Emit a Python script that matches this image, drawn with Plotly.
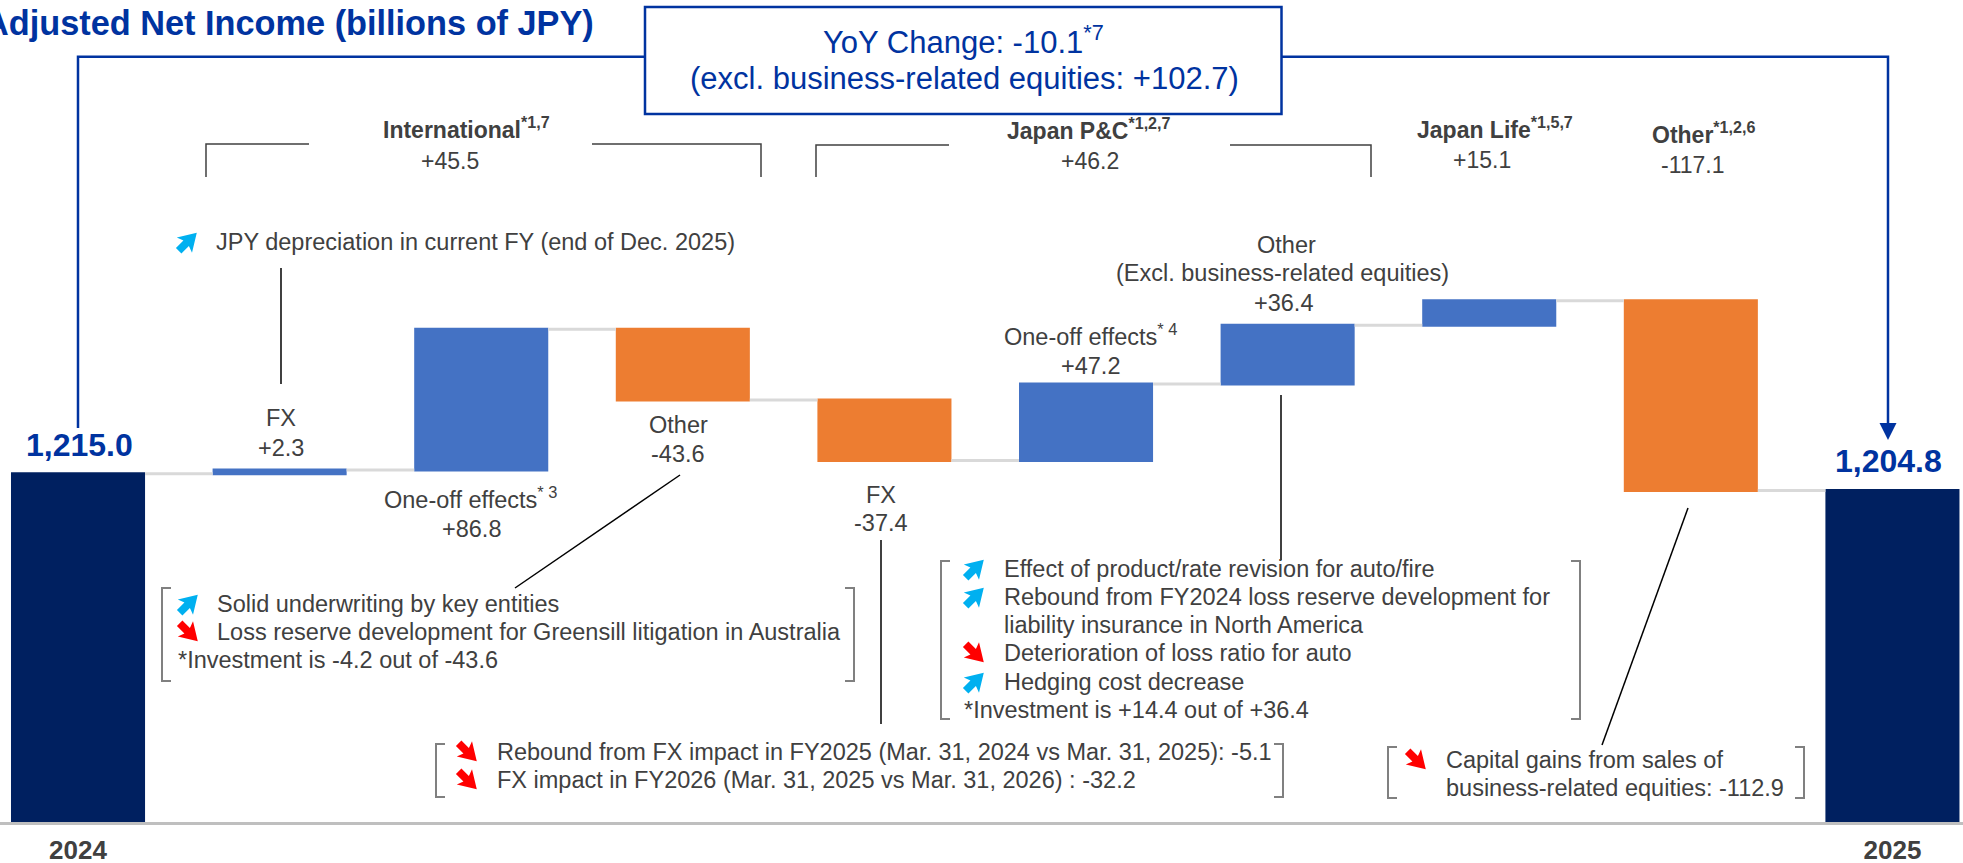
import plotly.graph_objects as go

# ---------------- data ----------------
categories = ["FY2024", "Intl FX", "Intl One-off", "Intl Other", "P&C FX",
              "P&C One-off", "P&C Other", "Japan Life", "Other", "FY2025"]
tick_labels = ["2024", "", "", "", "", "", "", "", "", "2025"]
measures = ["absolute"] + ["relative"] * 8 + ["total"]
values = [1215.0, 2.3, 86.8, -43.6, -37.4, 47.2, 36.4, 15.1, -117.1, None]
start_label = "1,215.0"
end_label = "1,204.8"

title_text = "Adjusted Net Income (billions of JPY)"
yoy_lines = ["YoY Change: -10.1<sup>*7</sup>", "(excl. business-related equities: +102.7)"]

segment_names = ["International<sup>*1,7</sup>", "Japan P&C<sup>*1,2,7</sup>",
                 "Japan Life<sup>*1,5,7</sup>", "Other<sup>*1,2,6</sup>"]
segment_values = ["+45.5", "+46.2", "+15.1", "-117.1"]

bar_names = ["FX", "One-off effects<sup>* 3</sup>", "Other", "FX",
             "One-off effects<sup>* 4</sup>", "Other"]
bar_values = ["+2.3", "+86.8", "-43.6", "-37.4", "+47.2", "+36.4"]
other_sub = "(Excl. business-related equities)"

jpy_note = [("up", "JPY depreciation in current FY (end of Dec. 2025)")]
intl_other_notes = [("up", "Solid underwriting by key entities"),
                    ("down", "Loss reserve development for Greensill litigation in Australia"),
                    (None, "*Investment is -4.2 out of -43.6")]
pc_fx_notes = [("down", "Rebound from FX impact in FY2025 (Mar. 31, 2024 vs Mar. 31, 2025): -5.1"),
               ("down", "FX impact in FY2026 (Mar. 31, 2025 vs Mar. 31, 2026) : -32.2")]
pc_other_notes = [("up", "Effect of product/rate revision for auto/fire"),
                  ("up", "Rebound from FY2024 loss reserve development for"),
                  ("", "liability insurance in North America"),
                  ("down", "Deterioration of loss ratio for auto"),
                  ("up", "Hedging cost decrease"),
                  (None, "*Investment is +14.4 out of +36.4")]
other_notes = [("down", "Capital gains from sales of"),
               ("", "business-related equities: -112.9")]

# ---------------- geometry helpers ----------------
W, H = 1963, 863
AX_Y = 822          # pixel row of the category axis
PX_PER_UNIT = 1.62
Y0 = 1000.0


def fx(x):
    return x / W


def fy(y):
    return (AX_Y - y) / AX_Y


FONT = "Liberation Sans, Arial, sans-serif"
GRAY = "#404040"
BLUE = "#0033A0"
BRK = "#808080"

annotations = []
shapes = []


def text(s, x, y, size=23.5, color=GRAY, xanchor="center", yanchor="middle", bold=False):
    annotations.append(dict(text=s, x=fx(x), y=fy(y), xref="paper", yref="paper",
                            showarrow=False, xanchor=xanchor, yanchor=yanchor,
                            borderpad=0, borderwidth=0,
                            font=dict(family=FONT, size=size, color=color,
                                      weight="bold" if bold else "normal")))


def poly(pts, color, width, closed=False, fill=None):
    d = "M " + " L ".join(f"{fx(a):.6f},{fy(b):.6f}" for a, b in pts)
    if closed:
        d += " Z"
    shapes.append(dict(type="path", path=d, xref="paper", yref="paper",
                       line=dict(color=color, width=width),
                       fillcolor=fill if fill else "rgba(0,0,0,0)", layer="above"))


def icon(cx, cy, kind, k=1.25):
    s = 0.7071
    if kind == "up":
        u, v, col = (s, -s), (s, s), "#00B0F0"
    else:
        u, v, col = (s, s), (-s, s), "#FF0000"
    local = [(-10, -3.1), (-1.5, -3.1), (-3.5, -8.6), (10.5, 0), (-3.5, 8.6),
             (-1.5, 3.1), (-10, 3.1)]
    pts = [(cx + k * (a * u[0] + b * v[0]), cy + k * (a * u[1] + b * v[1])) for a, b in local]
    poly(pts, col, 0, closed=True, fill=col)


def bracket(x0, x1, y0, y1, serif=9):
    poly([(x0 + serif, y0), (x0, y0), (x0, y1), (x0 + serif, y1)], BRK, 2)
    poly([(x1 - serif, y0), (x1, y0), (x1, y1), (x1 - serif, y1)], BRK, 2)


def note_block(items, icon_x, text_x, flush_x, ys, box=None):
    if box:
        bracket(*box)
    for (kind, s), y in zip(items, ys):
        if kind is None:
            text(s, flush_x, y, xanchor="left")
        else:
            if kind:
                icon(icon_x, y, kind)
            text(s, text_x, y, xanchor="left")


# ---------------- chart ----------------
fig = go.Figure(go.Waterfall(
    x=categories, y=values, measure=measures, width=0.665,
    increasing=dict(marker=dict(color="#4472C4")),
    decreasing=dict(marker=dict(color="#ED7D31")),
    totals=dict(marker=dict(color="#002060")),
    connector=dict(line=dict(color="#D9D9D9", width=3), mode="between"),
    textposition="none", hoverinfo="skip",
))

# title
text(title_text, 594, 23, size=34.3, color=BLUE, xanchor="right", bold=True)

# YoY box + blue frame line with arrow
poly([(78, 428), (78, 56.7), (645, 56.7)], BLUE, 2.5)
poly([(1281.5, 56.7), (1888, 56.7), (1888, 425)], BLUE, 2.5)
poly([(1879.5, 423), (1896.5, 423), (1888, 440)], BLUE, 0, closed=True, fill=BLUE)
shapes.append(dict(type="rect", xref="paper", yref="paper", x0=fx(645), x1=fx(1281.5),
                   y0=fy(114), y1=fy(7), line=dict(color=BLUE, width=2.5),
                   fillcolor="white", layer="above"))
text(yoy_lines[0], 963.5, 53 + 0.212 * 31, size=31, color=BLUE, yanchor="bottom")
text(yoy_lines[1], 964.5, 78, size=31, color=BLUE)

# start / end totals
text(start_label, 79.5, 444.5, size=32, color=BLUE, bold=True)
text(end_label, 1888, 461, size=32, color=BLUE, bold=True)

# segment headers with brackets
seg_pos = [(466.5, 138), (1088.5, 139.5), (1494.5, 138.5), (1703, 143)]
seg_val_pos = [(450, 160.5), (1089.5, 160.5), (1481.5, 160), (1692.5, 165)]
for name, (x, base) in zip(segment_names, seg_pos):
    text(name, x, base + 0.212 * 23, size=23, yanchor="bottom", bold=True)
for val, (x, y) in zip(segment_values, seg_val_pos):
    text(val, x, y, size=23)
poly([(206, 177), (206, 144), (309, 144)], GRAY, 1.5)
poly([(592, 144), (761, 144), (761, 177)], GRAY, 1.5)
poly([(816, 177), (816, 145), (949, 145)], GRAY, 1.5)
poly([(1230, 145), (1371, 145), (1371, 177)], GRAY, 1.5)

# bar labels
text(bar_names[0], 281, 418.5)
text(bar_values[0], 281, 447.5)
text(bar_names[1], 470, 508 + 0.212 * 23.5, yanchor="bottom")
text(bar_values[1], 471, 529)
text(bar_names[2], 678, 425)
text(bar_values[2], 678, 453.5)
text(bar_names[3], 881, 494.5)
text(bar_values[3], 881, 522.5)
text(bar_names[4], 1090, 345 + 0.212 * 23.5, yanchor="bottom")
text(bar_values[4], 1090, 365.5)
text(bar_names[5], 1286, 245)
text(other_sub, 1282.5, 273)
text(bar_values[5], 1283.5, 302.5)

# leader lines
for pts in [[(281, 268), (281, 384)], [(680, 475), (515, 588)], [(881, 540), (881, 724)],
            [(1281, 395), (1281, 560)], [(1688, 508), (1602, 745)]]:
    poly(pts, "#000000", 1.5)

# notes
note_block(jpy_note, 187.5, 216, 216, [242])
note_block(intl_other_notes, 188.5, 217, 178, [604, 632, 660], box=(162, 854, 588, 681))
note_block(pc_fx_notes, 467.5, 497, 497, [752, 780], box=(436, 1283, 744, 797))
note_block(pc_other_notes, 974.5, 1004, 964, [569, 597, 625, 653, 682, 710],
           box=(941, 1580, 561, 719))
note_block(other_notes, 1416.5, 1446, 1446, [760, 788], box=(1388, 1804, 747, 798))

fig.update_layout(
    width=W, height=H, autosize=False,
    margin=dict(l=0, r=0, t=0, b=H - AX_Y, pad=0, autoexpand=False),
    paper_bgcolor="white", plot_bgcolor="white",
    showlegend=False, hovermode=False,
    annotations=annotations, shapes=shapes,
    xaxis=dict(type="category", range=[-0.387, 9.350], tickmode="array",
               tickvals=categories, ticktext=tick_labels, ticks="",
               tickfont=dict(family=FONT, size=26, color=GRAY, weight="bold"),
               ticklabelstandoff=3, automargin=False,
               showline=True, linecolor="#BFBFBF", linewidth=3,
               showgrid=False, zeroline=False, fixedrange=True),
    yaxis=dict(range=[Y0, Y0 + AX_Y / PX_PER_UNIT], visible=False, fixedrange=True,
               automargin=False),
)

fig.write_html("out.html", config={"displayModeBar": False},
               post_script="document.body.style.margin='0';document.body.style.overflow='hidden';")
